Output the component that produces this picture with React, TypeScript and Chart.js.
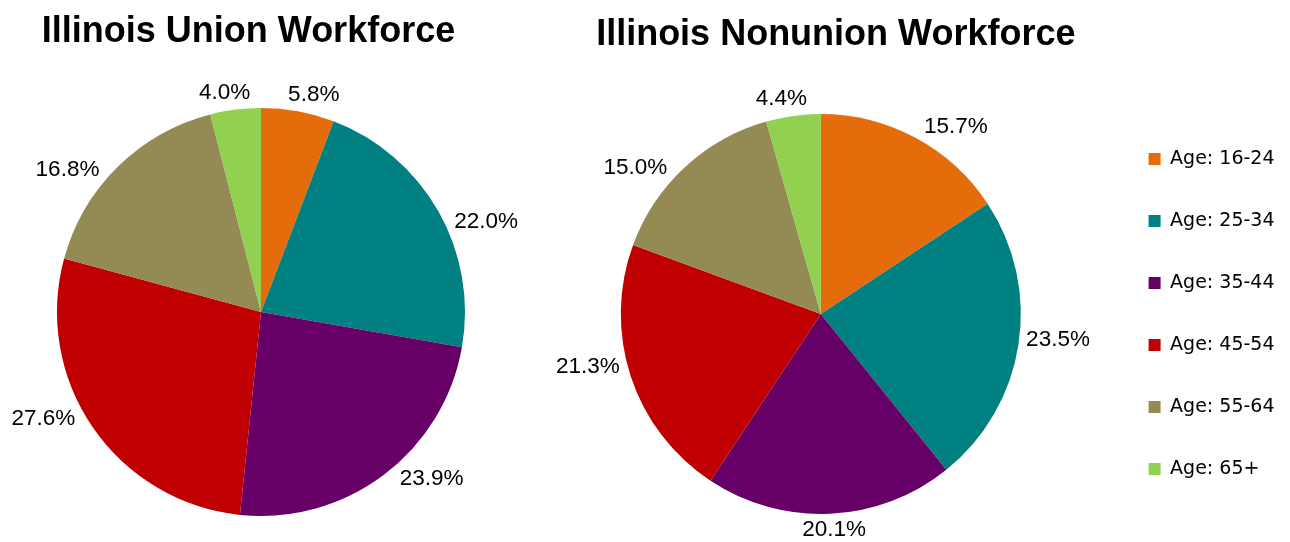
import React, { useEffect, useRef } from 'react';
import { Chart, registerables } from 'chart.js';

Chart.register(...registerables);

const categories = ['Age: 16-24', 'Age: 25-34', 'Age: 35-44', 'Age: 45-54', 'Age: 55-64', 'Age: 65+'];
const unionValues = [5.8, 22.0, 23.9, 27.6, 16.8, 4.0];
const nonunionValues = [15.7, 23.5, 20.1, 21.3, 15.0, 4.4];
const sliceColors = ['#E46C0A', '#008080', '#660066', '#C00000', '#948A54', '#92D050'];
const chartTitles = ['Illinois Union Workforce', 'Illinois Nonunion Workforce'];

const TITLE_FONT = "bold 36px 'Liberation Sans', Arial, sans-serif";
const LABEL_FONT = "22.5px 'Liberation Sans', Arial, sans-serif";

const pieTitle = {
  id: 'pieTitle',
  afterDraw(chart: any, _args: any, opts: any) {
    const ctx = chart.ctx;
    const area = chart.chartArea;
    ctx.save();
    ctx.font = opts.font;
    ctx.fillStyle = opts.color;
    ctx.textAlign = 'center';
    ctx.textBaseline = 'alphabetic';
    ctx.fillText(opts.text, (area.left + area.right) / 2 + opts.dx, opts.baseline);
    ctx.restore();
  },
};

// Outside-end labels, nudged toward the horizontal like spreadsheet "best fit" labels.
const outsideLabels = {
  id: 'outsideLabels',
  afterDatasetsDraw(chart: any, _args: any, opts: any) {
    const ctx = chart.ctx;
    const meta = chart.getDatasetMeta(0);
    const values = chart.data.datasets[0].data;
    ctx.save();
    ctx.font = opts.font;
    ctx.fillStyle = opts.color;
    ctx.textAlign = 'center';
    ctx.textBaseline = 'middle';
    const pull = (opts.pullDeg * Math.PI) / 180;
    meta.data.forEach((arc: any, i: number) => {
      const { x, y, startAngle, endAngle, outerRadius } = arc.getProps(
        ['x', 'y', 'startAngle', 'endAngle', 'outerRadius'],
        true
      );
      const mid = (startAngle + endAngle) / 2;
      const ang = mid - pull * Math.sin(2 * mid);
      const text = Number(values[i]).toFixed(1) + '%';
      const w = ctx.measureText(text).width;
      const h = opts.textHeight;
      const c = Math.cos(ang);
      const s = Math.sin(ang);
      const d = outerRadius + opts.gap + Math.abs(c) * (w / 2) + Math.abs(s) * (h / 2);
      ctx.fillText(text, x + c * d, y + s * d);
    });
    ctx.restore();
  },
};

function makeConfig(values: number[], title: string, opts: any) {
  return {
    type: 'pie' as const,
    data: {
      labels: categories,
      datasets: [
        {
          data: values,
          backgroundColor: sliceColors,
          borderWidth: 0,
          radius: opts.radius,
        },
      ],
    },
    plugins: [pieTitle, outsideLabels],
    options: {
      responsive: false,
      animation: false as const,
      devicePixelRatio: 1,
      layout: { padding: opts.padding },
      plugins: {
        title: { display: false },
        tooltip: { enabled: false },
        legend: opts.legend,
        pieTitle: { text: title, font: TITLE_FONT, color: '#000', dx: opts.titleDx, baseline: opts.titleBaseline },
        outsideLabels: { font: LABEL_FONT, color: '#000', gap: 6, textHeight: 16, pullDeg: 9 },
      },
    },
  };
}

export default function App() {
  const leftRef = useRef<HTMLCanvasElement>(null);
  const rightRef = useRef<HTMLCanvasElement>(null);

  useEffect(() => {
    const c1 = new Chart(
      leftRef.current as HTMLCanvasElement,
      makeConfig(unionValues, chartTitles[0], {
        radius: 204,
        padding: { left: 2, right: 0, top: 82, bottom: 0 },
        legend: { display: false },
        titleDx: -12.5,
        titleBaseline: 42,
      }) as any
    );
    const c2 = new Chart(
      rightRef.current as HTMLCanvasElement,
      makeConfig(nonunionValues, chartTitles[1], {
        radius: 200,
        padding: { left: 6, right: 5.5, top: 88, bottom: 2 },
        legend: {
          display: true,
          position: 'right',
          fullSize: false,
          align: 'center',
          labels: {
            boxWidth: 12,
            boxHeight: 12,
            padding: 43,
            color: '#000',
            font: { family: "'DejaVu Sans', sans-serif", size: 19 },
          },
        },
        titleDx: 15,
        titleBaseline: 44.5,
      }) as any
    );
    return () => {
      c1.destroy();
      c2.destroy();
    };
  }, []);

  return (
    <div
      style={{
        position: 'fixed',
        left: 0,
        top: 0,
        width: 1290,
        height: 542,
        background: '#ffffff',
        overflow: 'hidden',
      }}
    >
      <canvas
        ref={leftRef}
        width={600}
        height={542}
        style={{ position: 'absolute', left: -40, top: 0, width: 600, height: 542 }}
      />
      <canvas
        ref={rightRef}
        width={760}
        height={542}
        style={{ position: 'absolute', left: 530, top: 0, width: 760, height: 542 }}
      />
    </div>
  );
}
